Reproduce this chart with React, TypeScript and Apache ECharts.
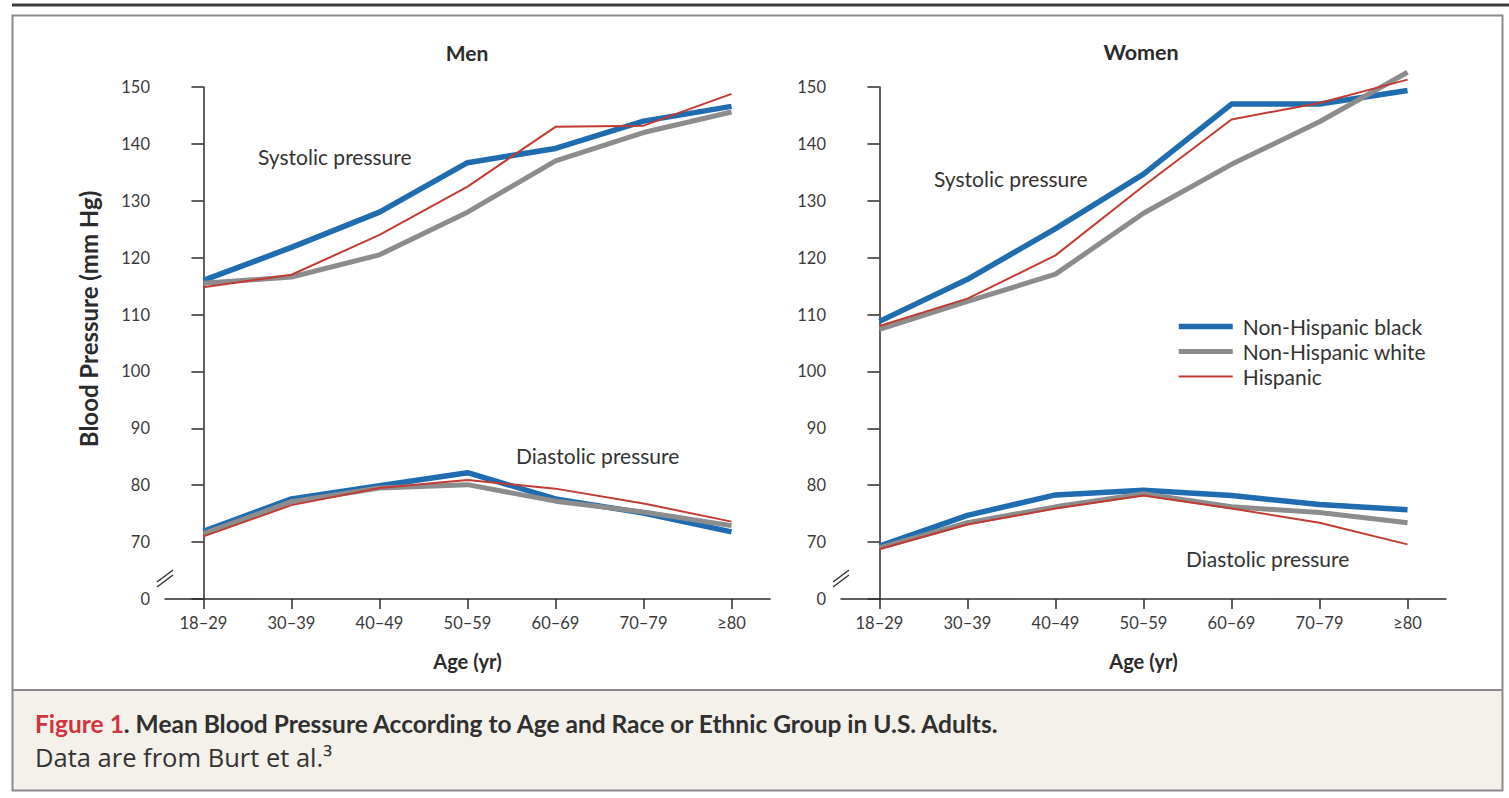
import React, { useEffect, useRef } from "react";
import * as echarts from "echarts";

const categories = ["18–29", "30–39", "40–49", "50–59", "60–69", "70–79", "≥80"];
const groups = ["Non-Hispanic black", "Non-Hispanic white", "Hispanic"];

const menSysBlack = [116, 121.8, 128, 136.7, 139.2, 144, 146.6];
const menSysWhite = [115.5, 116.6, 120.5, 128, 137, 142, 145.6];
const menSysHisp = [114.8, 117, 124, 132.5, 143, 143.2, 148.8];
const menDiaBlack = [71.9, 77.6, 79.9, 82.2, 77.6, 75.1, 71.8];
const menDiaWhite = [71.5, 77.1, 79.5, 80.1, 77.2, 75.3, 72.9];
const menDiaHisp = [71, 76.5, 79.5, 80.9, 79.4, 76.8, 73.6];

const womenSysBlack = [108.8, 116.2, 125.1, 134.7, 147, 147, 149.4];
const womenSysWhite = [107.4, 112.3, 117.1, 127.8, 136.4, 143.9, 152.6];
const womenSysHisp = [108, 112.8, 120.4, 132.6, 144.3, 147.2, 151.3];
const womenDiaBlack = [69.3, 74.7, 78.3, 79.1, 78.2, 76.6, 75.7];
const womenDiaWhite = [69, 73.4, 76.2, 78.5, 76.2, 75.2, 73.4];
const womenDiaHisp = [68.8, 73.1, 75.9, 78.2, 75.9, 73.4, 69.6];

const yMin = 60; // drawn as "0" after the axis break
const yMax = 150;
const yStep = 10;

const FONT = "Lato";
const FONT2 = "Open Sans";
const COLORS = ["#1f6cb0", "#8c8c8c", "#c23b33"];
const WIDTHS = [5.5, 5, 2];

const GRID_W = 605;
const GRID_H = 512;
const GRID_TOP = 87;
const MEN_LEFT = 165;
const WOMEN_LEFT = 841;

function toPairs(arr: number[]) {
  return arr.map((v, i) => [i, v]);
}

export default function App() {
  const ref = useRef<HTMLDivElement>(null);

  useEffect(() => {
    if (!ref.current) return;
    const chart = echarts.init(ref.current, undefined, { renderer: "svg" });

    const panels = [
      [menSysBlack, menSysWhite, menSysHisp, menDiaBlack, menDiaWhite, menDiaHisp],
      [womenSysBlack, womenSysWhite, womenSysHisp, womenDiaBlack, womenDiaWhite, womenDiaHisp],
    ];

    const series: any[] = [];
    panels.forEach((arrs, p) => {
      [0, 3].forEach((offset) => {
        [0, 1, 2].forEach((g) => {
          series.push({
            type: "line",
            name: groups[g],
            xAxisIndex: p,
            yAxisIndex: p,
            data: toPairs(arrs[offset + g]),
            symbol: "none",
            clip: false,
            lineStyle: { color: COLORS[g], width: WIDTHS[g], join: "round" },
            itemStyle: { color: COLORS[g] },
            z: 2 + g,
          });
        });
      });
    });

    const tickIdx = categories.map((_, i) => i);

    const xAxisBase = (gridIndex: number) => ({
      type: "value",
      gridIndex,
      min: -0.437,
      max: 6.437,
      splitLine: { show: false },
      axisLine: { lineStyle: { color: "#2b2b2b", width: 1.5 } },
      axisTick: {
        customValues: tickIdx,
        length: 10,
        inside: false,
        lineStyle: { color: "#2b2b2b", width: 1.5 },
      },
      axisLabel: {
        customValues: tickIdx,
        formatter: (v: number) => categories[Math.round(v)],
        margin: 15,
        color: "#3a3a3a",
        fontFamily: FONT,
        fontSize: 16.5,
      },
      name: "Age (yr)",
      nameLocation: "middle",
      nameGap: 52,
      nameTextStyle: { fontFamily: FONT, fontSize: 20, fontWeight: "bold", color: "#2b2b2b" },
    });

    const yAxisBase = (gridIndex: number) => ({
      type: "value",
      gridIndex,
      min: yMin,
      max: yMax,
      interval: yStep,
      splitLine: { show: false },
      axisLine: { show: true, lineStyle: { color: "#2b2b2b", width: 1.5 } },
      axisTick: { show: true, length: 12, lineStyle: { color: "#2b2b2b", width: 1.5 } },
      axisLabel: {
        formatter: (v: number) => (v === yMin ? "0" : String(v)),
        margin: 15,
        color: "#3a3a3a",
        fontFamily: FONT,
        fontSize: 16.5,
      },
    });

    const breakMarks = (x: number) => [
      {
        type: "line",
        shape: { x1: x - 8, y1: 582, x2: x + 8, y2: 570 },
        style: { stroke: "#2b2b2b", lineWidth: 1.3 },
        z: 10,
      },
      {
        type: "line",
        shape: { x1: x - 8, y1: 587, x2: x + 8, y2: 575 },
        style: { stroke: "#2b2b2b", lineWidth: 1.3 },
        z: 10,
      },
    ];

    const annot = (text: string, x: number, y: number) => ({
      type: "text",
      x,
      y,
      style: {
        text,
        fontFamily: FONT,
        fontSize: 21,
        fill: "#333",
        verticalAlign: "middle",
        textAlign: "left",
      },
      z: 10,
    });

    const option: any = {
      animation: false,
      backgroundColor: "#ffffff",
      grid: [
        { left: MEN_LEFT, top: GRID_TOP, width: GRID_W, height: GRID_H },
        { left: WOMEN_LEFT, top: GRID_TOP, width: GRID_W, height: GRID_H },
      ],
      xAxis: [xAxisBase(0), xAxisBase(1)],
      yAxis: [yAxisBase(0), yAxisBase(1)],
      legend: {
        orient: "vertical",
        left: 1176,
        top: 315,
        padding: 0,
        itemWidth: 54,
        itemHeight: 14,
        itemGap: 2,
        textStyle: { fontFamily: FONT, fontSize: 21, color: "#333", lineHeight: 23, padding: [0, 0, 0, 5] },
        data: groups.map((g, i) => ({
          name: g,
          itemStyle: { opacity: 0 },
          lineStyle: { width: WIDTHS[i], color: COLORS[i] },
        })),
        selectedMode: false,
      },
      graphic: [
        {
          type: "rect",
          shape: { x: 13, y: 690, width: 1489, height: 100 },
          style: { fill: "#f4f0ea" },
          z: 0,
        },
        {
          type: "line",
          shape: { x1: 12, y1: 5, x2: 1509, y2: 5 },
          style: { stroke: "#3c3c3c", lineWidth: 3 },
          z: 1,
        },
        {
          type: "rect",
          shape: { x: 12.5, y: 15.5, width: 1490, height: 775 },
          style: { fill: "none", stroke: "#8a8a8a", lineWidth: 2 },
          z: 1,
        },
        {
          type: "line",
          shape: { x1: 12, y1: 690, x2: 1503, y2: 690 },
          style: { stroke: "#8a8a8a", lineWidth: 2 },
          z: 1,
        },
        {
          type: "text",
          x: 467,
          y: 52,
          style: { text: "Men", fontFamily: FONT, fontSize: 21, fontWeight: "bold", fill: "#2b2b2b", textAlign: "center", verticalAlign: "middle" },
        },
        {
          type: "text",
          x: 1141,
          y: 52,
          style: { text: "Women", fontFamily: FONT, fontSize: 21.5, fontWeight: "bold", fill: "#2b2b2b", textAlign: "center", verticalAlign: "middle" },
        },
        {
          type: "text",
          x: 88,
          y: 319,
          rotation: Math.PI / 2,
          style: {
            text: "Blood Pressure (mm Hg)",
            fontFamily: FONT,
            fontSize: 24,
            fontWeight: "bold",
            fill: "#2b2b2b",
            textAlign: "center",
            verticalAlign: "middle",
          },
        },
        annot("Systolic pressure", 258, 156),
        annot("Diastolic pressure", 516, 455),
        annot("Systolic pressure", 934, 178),
        annot("Diastolic pressure", 1186, 558),
        ...breakMarks(MEN_LEFT),
        ...breakMarks(WOMEN_LEFT),
        {
          type: "text",
          x: 35,
          y: 723,
          style: {
            text: "{r|Figure 1}{b|. Mean Blood Pressure According to Age and Race or Ethnic Group in U.S. Adults.}",
            verticalAlign: "middle",
            rich: {
              r: { fontFamily: FONT, fontSize: 24.5, fontWeight: "bold", fill: "#d0343f", color: "#d0343f" },
              b: { fontFamily: FONT, fontSize: 24.5, fontWeight: "bold", fill: "#2f2f2f", color: "#2f2f2f" },
            },
          },
          z: 5,
        },
        {
          type: "text",
          x: 35,
          y: 757,
          style: {
            text: "Data are from Burt et al.³",
            fontFamily: FONT2,
            fontSize: 25.5,
            fill: "#333",
            verticalAlign: "middle",
          },
          z: 5,
        },
      ],
      series,
    };

    chart.setOption(option);
    return () => chart.dispose();
  }, []);

  return (
    <div
      ref={ref}
      style={{ position: "fixed", left: 0, top: 0, width: 1509, height: 798 }}
    />
  );
}
